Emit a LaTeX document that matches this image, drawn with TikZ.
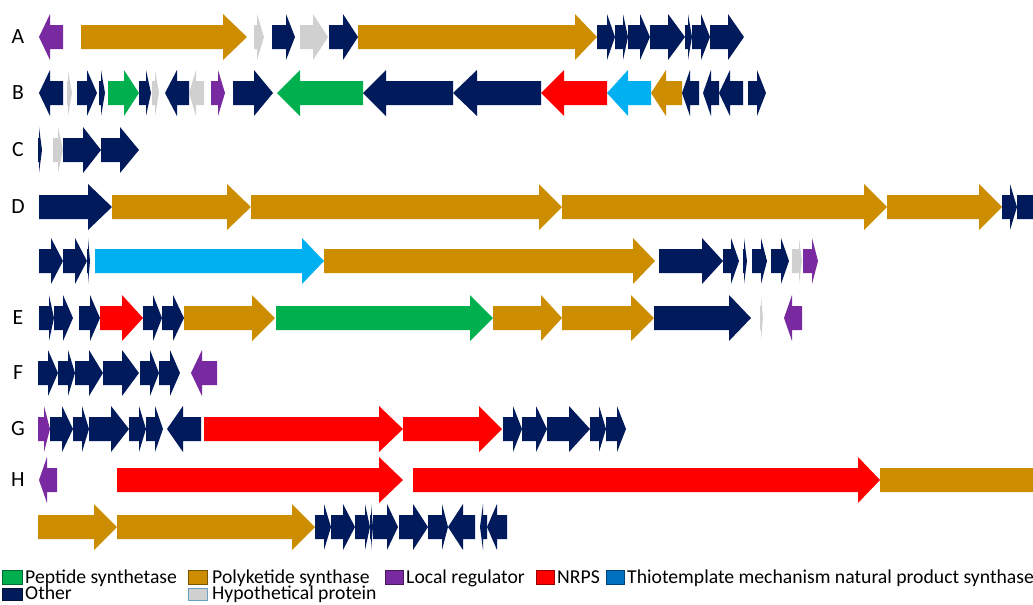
\documentclass[tikz,border=0pt]{standalone}
\usepackage{fontspec}
\setmainfont{Carlito}
\usepackage{xcolor}
\usepackage{tikz}
\definecolor{other}{HTML}{001A5C}
\definecolor{pks}{HTML}{CC8E00}
\definecolor{hypo}{HTML}{D0D0D0}
\definecolor{regul}{HTML}{7A2AA0}
\definecolor{pepsyn}{HTML}{00B04F}
\definecolor{nrps}{HTML}{FF0000}
\definecolor{thio}{HTML}{00B0F0}
\definecolor{thiobox}{HTML}{0070C0}
% tail, head base, tip, row, colour
\newcommand{\gene}[5]{%
  \fill[#5] (#1,#4-12) -- (#2,#4-12) -- (#2,#4-23) -- (#3,#4)
    -- (#2,#4+23) -- (#2,#4+12) -- (#1,#4+12) -- cycle;}

\begin{document}
\begin{tikzpicture}[x=0.03cm,y=-0.03cm,
  rowlbl/.style={font=\fontsize{18.5}{22}\selectfont},
  legtext/.style={anchor=base west,inner sep=0pt,font=\fontsize{16.8}{20}\selectfont}]
  \useasboundingbox (0,0) rectangle (1033,604);
  \clip (0,0) rectangle (1033,604);
  \foreach \lbl/\yy in {A/37,B/93,C/150,D/207,E/318,F/373,G/429,H/480}
    \node[rowlbl] (row\lbl) at (18,\yy) {\lbl};
  % A
  \gene{63}{50}{39}{37}{regul}
  \gene{81}{223}{247}{37}{pks}
  \gene{254}{257}{264}{37}{hypo}
  \gene{272}{286}{295}{37}{other}
  \gene{300}{313}{328}{37}{hypo}
  \gene{329}{343}{358}{37}{other}
  \gene{358}{575}{597}{37}{pks}
  \gene{597}{607}{615}{37}{other}
  \gene{615}{623}{628}{37}{other}
  \gene{628}{640}{650}{37}{other}
  \gene{650}{668}{685}{37}{other}
  \gene{685}{688}{692}{37}{other}
  \gene{692}{701}{710}{37}{other}
  \gene{710}{728}{744}{37}{other}
  % B
  \gene{63}{50}{39}{93}{other}
  \gene{67}{68}{72}{93}{hypo}
  \gene{77}{87}{97}{93}{other}
  \gene{99}{101}{105}{93}{other}
  \gene{108}{124}{139}{93}{pepsyn}
  \gene{139}{146}{151}{93}{other}
  \gene{152}{155}{159}{93}{hypo}
  \gene{189}{177}{165}{93}{other}
  \gene{204}{196}{189}{93}{hypo}
  \gene{211}{218}{225}{93}{regul}
  \gene{233}{254}{273}{93}{other}
  \gene{363}{300}{277}{93}{pepsyn}
  \gene{453}{386}{363}{93}{other}
  \gene{541}{477}{453}{93}{other}
  \gene{607}{564}{541}{93}{nrps}
  \gene{651}{628}{607}{93}{thio}
  \gene{682}{666}{651}{93}{pks}
  \gene{699}{690}{682}{93}{other}
  \gene{719}{711}{703}{93}{other}
  \gene{743}{730}{719}{93}{other}
  \gene{748}{757}{766}{93}{other}
  % C
  \gene{38}{39}{42}{150}{other}
  \gene{53}{58}{63}{150}{hypo}
  \gene{63}{83}{101}{150}{other}
  \gene{101}{120}{139}{150}{other}
  % D
  \gene{39}{88}{112}{207}{other}
  \gene{112}{227}{251}{207}{pks}
  \gene{251}{539}{562}{207}{pks}
  \gene{562}{864}{887}{207}{pks}
  \gene{887}{979}{1002}{207}{pks}
  \gene{1002}{1010}{1017}{207}{other}
  \gene{1017}{1045}{1055}{207}{other}
  \gene{39}{51}{63}{261}{other}
  \gene{63}{75}{87}{261}{other}
  \gene{87}{88}{90}{261}{other}
  \gene{95}{302}{324}{261}{thio}
  \gene{324}{633}{655}{261}{pks}
  \gene{659}{702}{723}{261}{other}
  \gene{723}{731}{739}{261}{other}
  \gene{743}{744}{747}{261}{other}
  \gene{752}{761}{767}{261}{other}
  \gene{771}{781}{789}{261}{other}
  \gene{792}{799}{802}{261}{hypo}
  \gene{803}{812}{818}{261}{regul}
  % E
  \gene{39}{49}{54}{318}{other}
  \gene{54}{63}{73}{318}{other}
  \gene{79}{90}{100}{318}{other}
  \gene{100}{122}{143}{318}{nrps}
  \gene{143}{153}{162}{318}{other}
  \gene{162}{173}{184}{318}{other}
  \gene{184}{252}{275}{318}{pks}
  \gene{276}{470}{493}{318}{pepsyn}
  \gene{493}{541}{562}{318}{pks}
  \gene{562}{631}{654}{318}{pks}
  \gene{654}{729}{751}{318}{other}
  \gene{760}{761}{763}{318}{hypo}
  \gene{802}{792}{784}{318}{regul}
  % F
  \gene{38}{48}{58}{373}{other}
  \gene{58}{68}{75}{373}{other}
  \gene{75}{89}{103}{373}{other}
  \gene{103}{122}{139}{373}{other}
  \gene{140}{150}{159}{373}{other}
  \gene{159}{170}{180}{373}{other}
  \gene{217}{202}{191}{373}{regul}
  % G
  \gene{38}{44}{50}{429}{regul}
  \gene{50}{62}{73}{429}{other}
  \gene{73}{82}{89}{429}{other}
  \gene{89}{111}{129}{429}{other}
  \gene{129}{139}{146}{429}{other}
  \gene{146}{155}{163}{429}{other}
  \gene{201}{183}{167}{429}{other}
  \gene{204}{379}{403}{429}{nrps}
  \gene{403}{479}{502}{429}{nrps}
  \gene{503}{513}{522}{429}{other}
  \gene{522}{536}{547}{429}{other}
  \gene{547}{569}{590}{429}{other}
  \gene{590}{599}{606}{429}{other}
  \gene{606}{617}{626}{429}{other}
  % H
  \gene{57}{47}{39}{480}{regul}
  \gene{117}{379}{403}{480}{nrps}
  \gene{413}{858}{880}{480}{nrps}
  \gene{880}{1050}{1060}{480}{pks}
  \gene{38}{94}{117}{527}{pks}
  \gene{117}{292}{315}{527}{pks}
  \gene{315}{324}{331}{527}{other}
  \gene{331}{343}{355}{527}{other}
  \gene{355}{365}{370}{527}{other}
  \gene{370}{371}{373}{527}{other}
  \gene{373}{387}{398}{527}{other}
  \gene{399}{413}{428}{527}{other}
  \gene{428}{442}{448}{527}{other}
  \gene{475}{463}{448}{527}{other}
  \gene{487}{483}{480}{527}{other}
  \gene{507}{497}{487}{527}{other}
  % legend
  \filldraw[fill=pepsyn,draw=pepsyn!60!black,thin] (2,570) rectangle (22,584);
  \node[legtext] (legpep) at (25,583) {Peptide synthetase};
  \filldraw[fill=pks,draw=pks!60!black,thin] (188,570) rectangle (207,584);
  \node[legtext] (legpks) at (212,583) {Polyketide synthase};
  \filldraw[fill=regul,draw=regul!60!black,thin] (385,570) rectangle (403,584);
  \node[legtext] (legreg) at (406,583) {Local regulator};
  \filldraw[fill=nrps,draw=nrps!60!black,thin] (536,570) rectangle (554,584);
  \node[legtext] (legnrps) at (557,583) {NRPS};
  \filldraw[fill=thiobox,draw=thiobox!60!black,thin] (606,570) rectangle (624,584);
  \node[legtext] (legthio) at (627,583) {Thiotemplate mechanism natural product synthase};
  \filldraw[fill=other,draw=other!60!black,thin] (2,588) rectangle (22,600);
  \node[legtext] (legother) at (25,599.5) {Other};
  \filldraw[fill=hypo,draw=thiobox!50!hypo,thin] (188,588) rectangle (207,600);
  \node[legtext] (leghypo) at (212,599.5) {Hypothetical protein};
\end{tikzpicture}
\end{document}
